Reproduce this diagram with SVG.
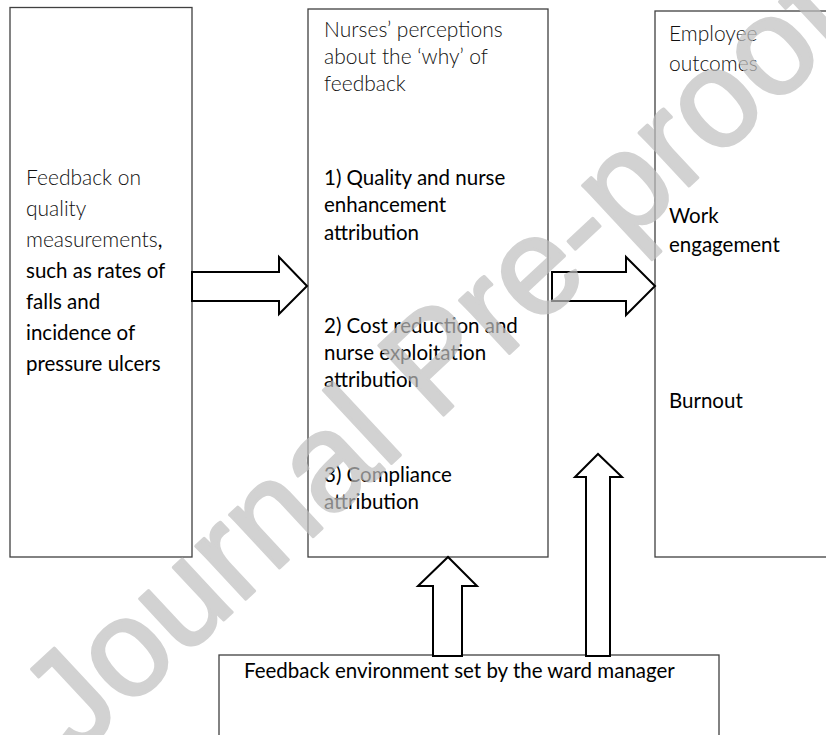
<svg xmlns="http://www.w3.org/2000/svg" width="826" height="735" viewBox="0 0 826 735">
<style>
.box{fill:#fff;stroke:#404040;stroke-width:1.3}
.arrow{fill:#fff;stroke:#000;stroke-width:2;stroke-linejoin:miter}
.lt{font-family:Lato,"Liberation Sans",sans-serif;font-weight:300;font-size:21px;fill:#111}
.rg{font-family:Lato,"Liberation Sans",sans-serif;font-weight:400;font-size:20.5px;fill:#000}
.wm{font-family:"Liberation Sans",Arial,sans-serif;font-weight:400;font-size:138px;fill:#bfbfbf;stroke:#bfbfbf;stroke-width:3;stroke-linejoin:round;opacity:0.7}
</style>
<rect width="826" height="735" fill="#fff"/>
<g id="feedback-quality">
<rect class="box" x="10" y="7.5" width="182" height="549.5"/>
<text x="26" y="185" class="lt">Feedback on</text>
<text x="26" y="216" class="lt">quality</text>
<text x="26" y="247" class="lt">measurements<tspan class="rg">,</tspan></text>
<text x="26" y="278" class="rg">such as rates of</text>
<text x="26" y="309" class="rg">falls and</text>
<text x="26" y="340" class="rg">incidence of</text>
<text x="26" y="371" class="rg">pressure ulcers</text>
</g>
<g id="perceptions">
<rect class="box" x="308" y="9" width="240" height="548"/>
<text x="324" y="37" class="lt">Nurses’ perceptions</text>
<text x="324" y="64" class="lt">about the ‘why’ of</text>
<text x="324" y="91" class="lt">feedback</text>
<text x="324" y="185" class="rg">1) Quality and nurse</text>
<text x="324" y="212" class="rg">enhancement</text>
<text x="324" y="240" class="rg">attribution</text>
<text x="324" y="333" class="rg">2) Cost reduction and</text>
<text x="324" y="360" class="rg">nurse exploitation</text>
<text x="324" y="387" class="rg">attribution</text>
<text x="324" y="482" class="rg">3) Compliance</text>
<text x="324" y="509" class="rg">attribution</text>
</g>
<g id="employee-outcomes">
<rect class="box" x="655" y="11" width="200" height="546"/>
<text x="669" y="41" class="lt">Employee</text>
<text x="669" y="71" class="lt">outcomes</text>
<text x="669" y="223" class="rg">Work</text>
<text x="669" y="252" class="rg">engagement</text>
<text x="669" y="408" class="rg">Burnout</text>
</g>
<g id="feedback-environment">
<rect class="box" x="219" y="655" width="500" height="110"/>
<text x="244" y="678" class="rg">Feedback environment set by the ward manager</text>
</g>
<g id="connectors">
<polygon class="arrow" points="192,272 279,272 279,257 307,286 279,314 279,301 192,301"/>
<polygon class="arrow" points="552,272 626,272 626,257 655,286 626,315 626,301 552,301"/>
<polygon class="arrow" points="433,656 433,586 418,586 448,557 477,586 462,586 462,656"/>
<polygon class="arrow" points="586,656 586,477 575,477 598,454 622,477 610,477 610,656"/>
</g>
<text class="wm" x="466" y="394" text-anchor="middle" transform="rotate(-43 466 394)">Journal Pre-proof</text>
</svg>
